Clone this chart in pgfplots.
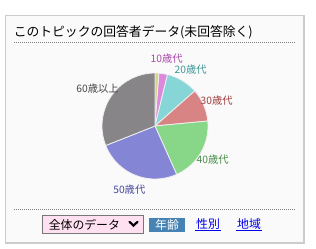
\documentclass[border=0pt]{standalone}
\usepackage{pgfplots}
\usepackage{pgfplotstable}
\pgfplotsset{compat=1.18}
\usepackage{fontspec}
\setmainfont{Noto Sans CJK JP}
\definecolor{pie0}{RGB}{214,212,138}
\definecolor{pie1}{RGB}{221,136,221}
\definecolor{pie2}{RGB}{134,214,216}
\definecolor{pie3}{RGB}{217,132,132}
\definecolor{pie4}{RGB}{136,214,136}
\definecolor{pie5}{RGB}{133,133,214}
\definecolor{pie6}{RGB}{135,133,135}
\definecolor{lab1}{RGB}{170,70,170}
\definecolor{lab2}{RGB}{60,150,150}
\definecolor{lab3}{RGB}{160,60,60}
\definecolor{lab4}{RGB}{70,140,70}
\definecolor{lab5}{RGB}{70,70,160}
\definecolor{lab6}{RGB}{70,70,70}
\definecolor{boxbg}{RGB}{250,250,250}
\definecolor{boxline}{RGB}{204,204,204}
\definecolor{selbg}{RGB}{255,224,240}
\definecolor{selline}{RGB}{119,119,119}
\definecolor{tabbg}{RGB}{70,130,180}
\definecolor{linkc}{RGB}{0,0,238}
% share of each age group (percent), clockwise from the top
\pgfplotstableread{
group value
unknown 1.2
10s 2.6
20s 9.7
30s 10.0
40s 19.8
50s 25.7
60plus 31.0
}\piedata
\def\piecum{0}
\def\pier{39.75pt}
\begin{document}
\begin{tikzpicture}
\begin{axis}[
  width=237pt, height=186pt, scale only axis,
  xmin=0, xmax=316, ymin=0, ymax=248, y dir=reverse,
  hide axis, clip=false,
]
\addplot[draw=none, forget plot] coordinates {(0,0) (316,248)};
\pgfplotsextra{
  \fill[white] (axis cs:0,0) rectangle (axis cs:316,248);
  \filldraw[fill=boxbg, draw=boxline, line width=1.1pt] (axis cs:5.5,15.5) rectangle (axis cs:304,243);
  \node[anchor=west, inner sep=0pt, font=\fontsize{9.6}{11}\selectfont] at (axis cs:13.5,32) {このトピックの回答者データ(未回答除く)};
  \draw[gray, line width=0.75pt, dash pattern=on 0.75pt off 0.75pt] (axis cs:14,42.5) -- (axis cs:296,42.5);
  \draw[gray, line width=0.75pt, dash pattern=on 0.75pt off 0.75pt] (axis cs:14,209) -- (axis cs:296,209);
  \pgfplotstableforeachcolumnelement{value}\of\piedata\as\v{%
    \pgfmathsetmacro\pa{90-3.6*\piecum}%
    \pgfmathsetmacro\pb{90-3.6*(\piecum+\v)}%
    \filldraw[fill=pie\pgfplotstablerow, draw=white!88!gray, line width=0.6pt, line join=round]
      (axis cs:155,126) -- ++(\pa:\pier) arc[start angle=\pa, end angle=\pb, radius=\pier] -- cycle;
    \pgfmathsetmacro\tmp{\piecum+\v}%
    \xdef\piecum{\tmp}%
  }
  \begin{scope}[every node/.style={inner sep=0pt, font=\fontsize{7.7}{9}\selectfont}]
  \node[text=lab1] at (axis cs:166.7,59) {10歳代};
  \node[text=lab2] at (axis cs:190.7,70) {20歳代};
  \node[text=lab3] at (axis cs:216.7,101) {30歳代};
  \node[text=lab4] at (axis cs:212.7,160) {40歳代};
  \node[text=lab5] at (axis cs:129.3,190) {50歳代};
  \node[text=lab6] at (axis cs:97.5,89) {60歳以上};
  \end{scope}
  \filldraw[fill=selbg, draw=selline, line width=0.9pt] (axis cs:42.5,215.5) rectangle (axis cs:143.5,233.5);
  \node[anchor=west, inner sep=0pt, font=\fontsize{8.9}{10}\selectfont] at (axis cs:48.5,224.5) {全体のデータ};
  \draw[black, line width=1.6pt, line cap=round, line join=miter] (axis cs:129.5,221.8) -- (axis cs:133.5,225.6) -- (axis cs:137.5,221.8);
  \fill[tabbg] (axis cs:149,217.7) rectangle (axis cs:185,232);
  \node[inner sep=0pt, text=white, font=\fontsize{8.9}{10}\selectfont] at (axis cs:167,224.5) {年齢};
  \node[inner sep=0pt, text=linkc, font=\fontsize{8.9}{10}\selectfont] at (axis cs:208,224.3) {性別};
  \node[inner sep=0pt, text=linkc, font=\fontsize{8.9}{10}\selectfont] at (axis cs:249,224.3) {地域};
  \draw[linkc, line width=0.75pt] (axis cs:195,230.7) -- (axis cs:221,230.7);
  \draw[linkc, line width=0.75pt] (axis cs:236,230.7) -- (axis cs:262,230.7);
}
\end{axis}
\end{tikzpicture}
\end{document}
